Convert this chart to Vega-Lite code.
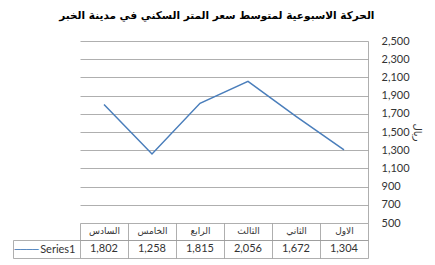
{
  "$schema": "https://vega.github.io/schema/vega-lite/v6.json",
  "padding": {"left": 12, "top": 10, "right": 5, "bottom": 0},
  "background": "white",
  "title": {"text": "الحركة الاسبوعية لمتوسط سعر المتر السكني في مدينة الخبر", "font": "DejaVu Sans", "fontSize": 10.5, "fontWeight": "bold", "color": "#000000", "anchor": "middle", "offset": 14},
  "data": {"values": [
    {"week": "السادس", "value": 1802, "series": "Series1"},
    {"week": "الخامس", "value": 1258, "series": "Series1"},
    {"week": "الرابع", "value": 1815, "series": "Series1"},
    {"week": "الثالث", "value": 2056, "series": "Series1"},
    {"week": "الثاني", "value": 1672, "series": "Series1"},
    {"week": "الاول", "value": 1304, "series": "Series1"}
  ]},
  "spacing": -6,
  "vconcat": [
    {
      "width": 288,
      "height": 182,
      "view": {"stroke": null},
      "mark": {"type": "line", "color": "#4A7EBB", "strokeWidth": 1.5},
      "encoding": {
        "x": {"field": "week", "type": "ordinal", "sort": ["السادس", "الخامس", "الرابع", "الثالث", "الثاني", "الاول"], "scale": {"type": "point", "padding": 0.5}, "axis": null},
        "y": {"field": "value", "type": "quantitative", "scale": {"domain": [500, 2500], "nice": false, "zero": false},
          "axis": {"orient": "right", "values": [500, 700, 900, 1100, 1300, 1500, 1700, 1900, 2100, 2300, 2500], "format": ",.0f", "grid": true, "gridColor": "#9a9a9a", "gridWidth": 0.8, "domain": true, "domainColor": "#9a9a9a", "domainWidth": 0.8, "ticks": false, "labelPadding": 13, "labelFont": "Lato", "labelFontSize": 11, "labelColor": "#333333", "title": "ريال", "titleFont": "DejaVu Sans", "titleFontSize": 10, "titleFontWeight": "normal", "titlePadding": 2, "titleColor": "#333333"}}
      }
    },
    {
      "width": 288,
      "height": 18,
      "view": {"stroke": null},
      "mark": {"type": "text", "fontSize": 11, "color": "#333333", "font": "Lato"},
      "encoding": {
        "x": {"field": "week", "type": "ordinal", "sort": ["السادس", "الخامس", "الرابع", "الثالث", "الثاني", "الاول"], "scale": {"type": "band", "paddingInner": 0, "paddingOuter": 0},
          "axis": {"orient": "top", "title": null, "tickBand": "extent", "grid": true, "gridColor": "#9a9a9a", "gridWidth": 0.8, "ticks": true, "tickSize": 17, "tickColor": "#9a9a9a", "tickWidth": 0.8, "domain": true, "domainColor": "#9a9a9a", "domainWidth": 0.8, "labelAngle": 0, "labelPadding": -12, "labelFont": "DejaVu Sans", "labelFontSize": 9, "labelColor": "#333333"}},
        "y": {"field": "series", "type": "nominal", "scale": {"type": "band", "paddingInner": 0, "paddingOuter": 0},
          "axis": {"orient": "left", "offset": 67, "tickBand": "extent", "grid": true, "gridColor": "#9a9a9a", "gridWidth": 0.8, "ticks": true, "tickSize": -67, "tickColor": "#9a9a9a", "tickWidth": 0.8, "domain": true, "domainColor": "#9a9a9a", "domainWidth": 0.8, "labelPadding": 5, "labelFont": "Lato", "labelFontSize": 11, "labelColor": "#333333", "title": "────", "titleFont": "DejaVu Sans", "titleFontSize": 10, "titleFontWeight": "normal", "titleColor": "#4A7EBB", "titleAngle": 0, "titleX": 1, "titleY": 9, "titleAlign": "left", "titleBaseline": "middle"}},
        "text": {"field": "value", "type": "quantitative", "format": ",.0f"}
      }
    }
  ]
}
